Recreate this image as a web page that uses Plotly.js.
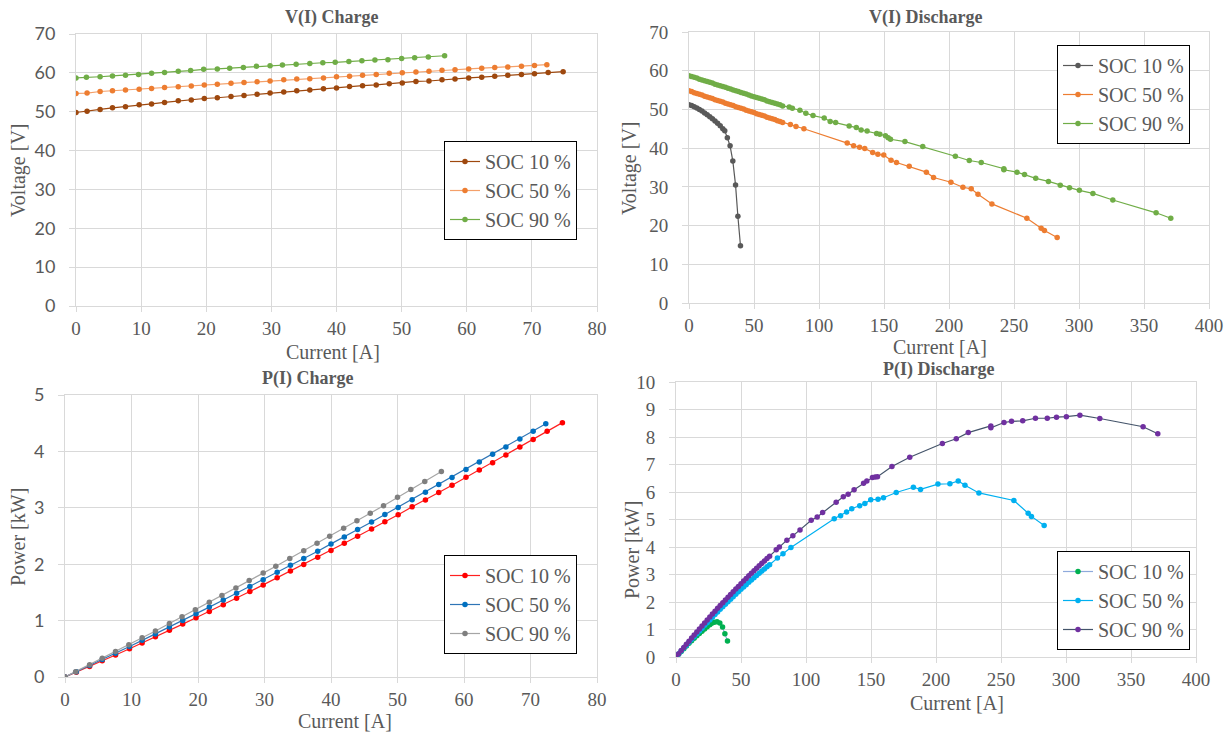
<!DOCTYPE html>
<html>
<head>
<meta charset="utf-8">
<script src="https://cdn.plot.ly/plotly-3.0.1.min.js"></script>
<style>html,body{margin:0;padding:0;background:#fff}#chart{width:1229px;height:733px}</style>
</head>
<body>
<div id="chart"></div>
<script>
// ---------- DATA ----------
const seriesNames = ['SOC 10 %', 'SOC 50 %', 'SOC 90 %'];

const iChg10 = [0, 1.7, 3.7, 5.6, 7.6, 9.7, 11.6, 13.6, 15.7, 17.7, 19.7, 21.7, 23.8, 25.8, 27.8, 29.8, 31.9, 33.9, 35.9, 38.0, 40.0, 42.0, 44.0, 46.1, 48.1, 50.1, 52.2, 54.2, 56.2, 58.2, 60.3, 62.3, 64.3, 66.3, 68.4, 70.4, 72.5, 74.8];
const vChg10 = [49.8, 50.1, 50.6, 51.0, 51.3, 51.8, 52.0, 52.4, 52.8, 53.0, 53.4, 53.6, 53.9, 54.2, 54.5, 54.8, 55.1, 55.4, 55.6, 55.9, 56.1, 56.5, 56.7, 56.9, 57.2, 57.4, 57.8, 57.9, 58.2, 58.4, 58.7, 58.9, 59.1, 59.4, 59.6, 59.8, 60.1, 60.3];
const pChg10 = [0, 0.085, 0.187, 0.286, 0.390, 0.502, 0.603, 0.713, 0.829, 0.938, 1.052, 1.163, 1.283, 1.398, 1.515, 1.633, 1.758, 1.878, 1.996, 2.124, 2.244, 2.373, 2.495, 2.623, 2.751, 2.876, 3.017, 3.138, 3.271, 3.399, 3.540, 3.669, 3.800, 3.938, 4.077, 4.210, 4.357, 4.510];

const iChg50 = [0, 1.7, 3.7, 5.6, 7.6, 9.7, 11.6, 13.6, 15.7, 17.7, 19.7, 21.7, 23.8, 25.8, 27.8, 29.8, 31.9, 33.9, 35.9, 38.0, 40.0, 42.0, 44.0, 46.1, 48.1, 50.1, 52.2, 54.2, 56.2, 58.2, 60.3, 62.3, 64.3, 66.3, 68.4, 70.4, 72.3];
const vChg50 = [54.7, 54.8, 55.2, 55.4, 55.6, 55.8, 56.0, 56.2, 56.4, 56.6, 56.9, 57.1, 57.3, 57.5, 57.7, 57.9, 58.2, 58.4, 58.5, 58.7, 59.0, 59.1, 59.4, 59.6, 59.9, 60.0, 60.2, 60.4, 60.7, 60.8, 61.0, 61.2, 61.4, 61.5, 61.7, 61.9, 62.1];
const pChg50 = [0, 0.093, 0.204, 0.310, 0.423, 0.541, 0.650, 0.764, 0.885, 1.002, 1.121, 1.239, 1.364, 1.484, 1.604, 1.725, 1.857, 1.980, 2.100, 2.231, 2.360, 2.482, 2.614, 2.748, 2.881, 3.006, 3.142, 3.274, 3.411, 3.539, 3.678, 3.813, 3.948, 4.077, 4.220, 4.358, 4.490];

const iChg90 = [0, 1.6, 3.7, 5.6, 7.6, 9.6, 11.6, 13.6, 15.7, 17.6, 19.6, 21.7, 23.6, 25.7, 27.7, 29.8, 31.7, 33.8, 35.9, 37.9, 39.8, 41.9, 43.9, 45.9, 47.9, 50.0, 52.0, 54.1, 56.6];
const vChg90 = [58.7, 58.9, 59.0, 59.2, 59.4, 59.6, 59.9, 60.1, 60.4, 60.6, 60.9, 61.0, 61.2, 61.4, 61.7, 61.8, 62.0, 62.2, 62.4, 62.6, 62.7, 62.9, 63.1, 63.3, 63.4, 63.7, 63.9, 64.1, 64.4];
const pChg90 = [0, 0.094, 0.218, 0.332, 0.451, 0.572, 0.695, 0.817, 0.948, 1.067, 1.194, 1.324, 1.444, 1.578, 1.709, 1.842, 1.965, 2.102, 2.240, 2.373, 2.495, 2.636, 2.770, 2.905, 3.037, 3.185, 3.323, 3.468, 3.645];

const iDis10 = [0, 2, 4, 6, 8, 10, 12, 14, 16, 18, 20, 22, 24, 26, 27.5, 29.5, 31.6, 33.7, 35.8, 37.6, 39.6];
const vDis10 = [51.2, 51.0, 50.7, 50.4, 50.0, 49.6, 49.1, 48.6, 48.1, 47.6, 47.0, 46.4, 45.8, 45.0, 44.5, 42.7, 40.6, 36.7, 30.5, 22.4, 14.8];
const pDis10 = [0, 0.102, 0.203, 0.302, 0.400, 0.496, 0.589, 0.680, 0.770, 0.857, 0.940, 1.021, 1.099, 1.170, 1.224, 1.260, 1.283, 1.237, 1.092, 0.842, 0.586];

const iDis50 = [0, 2, 4, 6, 8, 10, 12, 14, 16, 18, 20, 22, 24, 26, 28, 30, 32, 34, 36, 38, 40, 42, 44, 46, 48, 50, 52, 54, 56, 58, 60, 62, 64, 66, 68, 70, 72,
  78.0, 82.3, 88.4, 121.7, 126.6, 131.2, 135.2, 141.3, 145.3, 149.8, 155.4, 159.6, 169.4, 182.6, 188.1, 201.5, 210.7, 217.1, 222.3, 233.0, 259.9, 270.9, 273.4, 283.2];
const vDis50 = [54.8, 54.6, 54.3, 54.1, 53.9, 53.7, 53.4, 53.2, 53.0, 52.8, 52.5, 52.3, 52.1, 51.9, 51.6, 51.4, 51.2, 51.0, 50.7, 50.5, 50.3, 50.1, 49.8, 49.6, 49.4, 49.2, 48.9, 48.7, 48.5, 48.3, 48.0, 47.8, 47.6, 47.4, 47.1, 46.9, 46.6,
  46.1, 45.6, 45.0, 41.3, 40.6, 40.2, 39.9, 38.9, 38.4, 38.2, 36.9, 36.3, 35.3, 33.8, 32.4, 31.2, 29.9, 29.5, 28.1, 25.6, 21.9, 19.3, 18.7, 16.9];
const pDis50 = [0, 0.109, 0.217, 0.325, 0.431, 0.537, 0.641, 0.745, 0.848, 0.950, 1.050, 1.151, 1.250, 1.349, 1.445, 1.542, 1.638, 1.734, 1.825, 1.919, 2.012, 2.104, 2.191, 2.282, 2.371, 2.460, 2.543, 2.630, 2.716, 2.801, 2.880, 2.964, 3.046, 3.128, 3.203, 3.283, 3.355,
  3.596, 3.753, 3.978, 5.026, 5.140, 5.274, 5.394, 5.497, 5.580, 5.722, 5.734, 5.793, 5.980, 6.172, 6.094, 6.287, 6.300, 6.404, 6.247, 5.965, 5.692, 5.228, 5.113, 4.786];

const iDis90 = [0, 2, 4, 6, 8, 10, 12, 14, 16, 18, 20, 22, 24, 26, 28, 30, 32, 34, 36, 38, 40, 42, 44, 46, 48, 50, 52, 54, 56, 58, 60, 62, 64, 66, 68, 70, 72,
  77.1, 79.5, 85.3, 89.9, 95.4, 104.0, 108.6, 112.8, 123.2, 128.7, 132.4, 137.0, 144.3, 146.8, 151.1, 153.2, 155.0, 166.1, 179.8, 204.9, 215.6, 224.8, 242.2, 242.2, 252.3, 258.1, 266.7, 276.5, 285.6, 292.7, 300.3, 310.7, 326.0, 359.3, 370.6];
const vDis90 = [58.7, 58.5, 58.3, 58.1, 57.8, 57.6, 57.4, 57.2, 57.0, 56.8, 56.5, 56.3, 56.1, 55.9, 55.7, 55.5, 55.3, 55.0, 54.8, 54.6, 54.4, 54.2, 54.0, 53.7, 53.5, 53.3, 53.1, 52.9, 52.7, 52.5, 52.2, 52.0, 51.8, 51.6, 51.4, 51.2, 50.9,
  50.6, 50.3, 49.8, 49.0, 48.4, 47.8, 46.9, 46.6, 45.7, 45.3, 44.7, 44.4, 43.8, 43.6, 43.2, 42.7, 42.3, 41.7, 40.4, 37.9, 36.8, 36.3, 34.7, 34.4, 33.8, 33.2, 32.2, 31.4, 30.4, 29.8, 29.1, 28.3, 26.6, 23.3, 21.9];
const pDis90 = [0, 0.117, 0.233, 0.349, 0.462, 0.576, 0.689, 0.801, 0.912, 1.022, 1.130, 1.239, 1.346, 1.453, 1.560, 1.665, 1.770, 1.870, 1.973, 2.075, 2.176, 2.276, 2.376, 2.470, 2.568, 2.665, 2.761, 2.857, 2.951, 3.045, 3.132, 3.224, 3.315, 3.406, 3.495, 3.584, 3.665,
  3.901, 3.999, 4.248, 4.405, 4.617, 4.971, 5.093, 5.256, 5.630, 5.830, 5.918, 6.083, 6.320, 6.400, 6.528, 6.542, 6.557, 6.926, 7.264, 7.766, 7.934, 8.160, 8.404, 8.332, 8.528, 8.569, 8.588, 8.682, 8.682, 8.722, 8.739, 8.793, 8.672, 8.372, 8.116];

// ---------- LAYOUT HELPERS ----------
const W = 1229, H = 733;
const fx = v => v / W;
const fy = v => 1 - v / H;
const SERIF = 'Liberation Serif';
const SANS = 'Lato';
const TXT = '#595959';
const GRID = '#d9d9d9';

function makeTrace(x, y, name, lineCol, markCol, xa, ya, lg) {
  return {
    type: 'scatter', mode: 'lines+markers', x: x, y: y, name: name,
    xaxis: xa, yaxis: ya, legend: lg, showlegend: true,
    line: {color: lineCol, width: 1.2},
    marker: {color: markCol, size: 5.5, symbol: 'circle'}
  };
}

const traces = [
  makeTrace(iChg10, vChg10, seriesNames[0], '#9E480E', '#9E480E', 'x', 'y', 'legend'),
  makeTrace(iChg50, vChg50, seriesNames[1], '#F4A06A', '#ED7D31', 'x', 'y', 'legend'),
  makeTrace(iChg90, vChg90, seriesNames[2], '#70AD47', '#70AD47', 'x', 'y', 'legend'),
  makeTrace(iDis10, vDis10, seriesNames[0], '#595959', '#595959', 'x2', 'y2', 'legend2'),
  makeTrace(iDis50, vDis50, seriesNames[1], '#ED7D31', '#ED7D31', 'x2', 'y2', 'legend2'),
  makeTrace(iDis90, vDis90, seriesNames[2], '#70AD47', '#70AD47', 'x2', 'y2', 'legend2'),
  makeTrace(iChg10, pChg10, seriesNames[0], '#FF2020', '#FF0000', 'x3', 'y3', 'legend3'),
  makeTrace(iChg50, pChg50, seriesNames[1], '#2E75B6', '#0070C0', 'x3', 'y3', 'legend3'),
  makeTrace(iChg90, pChg90, seriesNames[2], '#A5A5A5', '#7F7F7F', 'x3', 'y3', 'legend3'),
  makeTrace(iDis10, pDis10, seriesNames[0], '#8FAADC', '#00B050', 'x4', 'y4', 'legend4'),
  makeTrace(iDis50, pDis50, seriesNames[1], '#00B0F0', '#00B0F0', 'x4', 'y4', 'legend4'),
  makeTrace(iDis90, pDis90, seriesNames[2], '#44546A', '#7030A0', 'x4', 'y4', 'legend4')
];

function makeX(d, range, dtick, anchor) {
  return {
    domain: [fx(d[0]), fx(d[1])], range: range, dtick: dtick, anchor: anchor,
    showgrid: true, gridcolor: GRID, gridwidth: 1, zeroline: false,
    showline: true, linecolor: GRID, linewidth: 1, mirror: true,
    ticks: 'outside', ticklen: 5, tickcolor: GRID,
    tickfont: {family: SERIF, size: 19, color: TXT},
    fixedrange: true
  };
}
function makeY(d, range, dtick, anchor, fam, sz) {
  return {
    domain: [fy(d[1]), fy(d[0])], range: range, dtick: dtick, anchor: anchor,
    showgrid: true, gridcolor: GRID, gridwidth: 1, zeroline: false,
    showline: true, linecolor: GRID, linewidth: 1, mirror: true,
    ticks: 'outside', ticklen: 6, tickcolor: GRID,
    tickfont: {family: fam, size: sz, color: TXT}, ticklabelstandoff: 10,
    fixedrange: true
  };
}
function makeAnn(text, x, y, opts) {
  return Object.assign({
    text: text, xref: 'paper', yref: 'paper', x: fx(x), y: fy(y),
    xanchor: 'center', yanchor: 'middle', showarrow: false,
    font: {family: SERIF, size: 20, color: TXT}
  }, opts || {});
}
const titleFont = {family: SERIF, size: 18, color: TXT, weight: 'bold'};
function makeLeg(right, top) {
  return {
    x: fx(right), y: fy(top), xanchor: 'right', yanchor: 'top',
    bgcolor: '#ffffff', bordercolor: '#000000', borderwidth: 1,
    font: {family: SERIF, size: 20, color: TXT},
    itemwidth: 30, tracegroupgap: 0
  };
}

const figLayout = {
  width: W, height: H, margin: {l: 0, r: 0, t: 0, b: 0},
  paper_bgcolor: '#ffffff', plot_bgcolor: '#ffffff',
  font: {family: SERIF, size: 18, color: TXT},
  xaxis: makeX([76, 597], [0, 80], 10, 'y'),
  yaxis: makeY([34, 306], [0, 70], 10, 'x', SANS, 18),
  xaxis2: makeX([689, 1209], [0, 400], 50, 'y2'),
  yaxis2: makeY([32, 303], [0, 70], 10, 'x2', SERIF, 19),
  xaxis3: makeX([65, 597], [0, 80], 10, 'y3'),
  yaxis3: makeY([395, 677], [0, 5], 1, 'x3', SANS, 18),
  xaxis4: makeX([676, 1196], [0, 400], 50, 'y4'),
  yaxis4: makeY([382, 657], [0, 10], 1, 'x4', SERIF, 19),
  legend: makeLeg(577, 141),
  legend2: makeLeg(1190, 45),
  legend3: makeLeg(577, 555),
  legend4: makeLeg(1190, 551),
  annotations: [
    makeAnn('V(I) Charge', 331, 18, {font: titleFont}),
    makeAnn('V(I) Discharge', 925, 18, {font: titleFont}),
    makeAnn('P(I) Charge', 307, 378, {font: titleFont}),
    makeAnn('P(I) Discharge', 938, 369, {font: titleFont}),
    makeAnn('Current [A]', 333, 352),
    makeAnn('Current [A]', 940, 347),
    makeAnn('Current [A]', 345, 721),
    makeAnn('Current [A]', 957, 703),
    makeAnn('Voltage [V]', 18, 170, {textangle: -90}),
    makeAnn('Voltage [V]', 630, 168, {textangle: -90}),
    makeAnn('Power [kW]', 18, 537, {textangle: -90}),
    makeAnn('Power [kW]', 632, 550, {textangle: -90})
  ]
};

Plotly.newPlot('chart', traces, figLayout, {displayModeBar: false, staticPlot: true});
</script>
</body>
</html>
